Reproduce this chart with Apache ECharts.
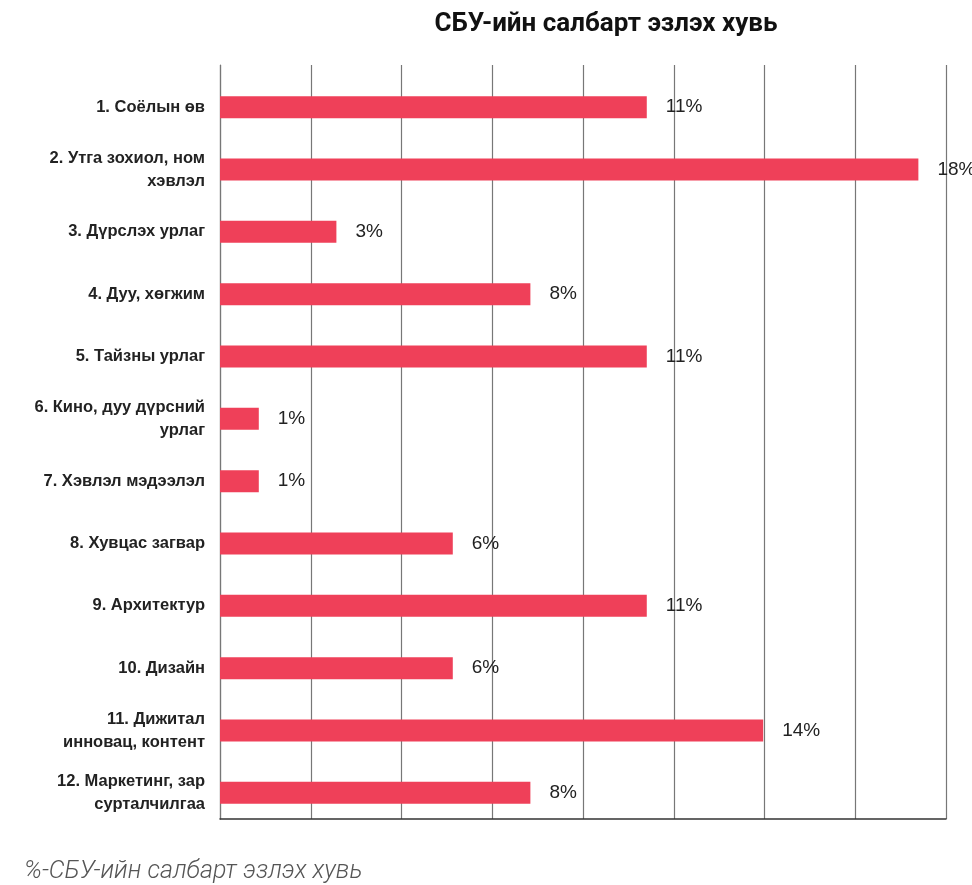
<!DOCTYPE html>
<html lang="en">

<head>
    <meta charset="UTF-8">
    <title>СБУ-ийн салбарт эзлэх хувь</title>
    <style>
        html, body { margin: 0; padding: 0; background: #fff; }
        #box { width: 972px; height: 885px; }
    </style>
    <script src="https://cdn.jsdelivr.net/npm/echarts@6/dist/echarts.min.js"></script>
</head>

<body>
    <div id="box"></div>
    <script>
        // салбарууд (дээрээс доош)
        const categories = [
            '1. Соёлын өв',
            '2. Утга зохиол, ном\nхэвлэл',
            '3. Дүрслэх урлаг',
            '4. Дуу, хөгжим',
            '5. Тайзны урлаг',
            '6. Кино, дуу дүрсний\nурлаг',
            '7. Хэвлэл мэдээлэл',
            '8. Хувцас загвар',
            '9. Архитектур',
            '10. Дизайн',
            '11. Дижитал\nинновац, контент',
            '12. Маркетинг, зар\nсурталчилгаа'
        ]
        // хувь (%)
        const values = [11, 18, 3, 8, 11, 1, 1, 6, 11, 6, 14, 8]

        // тэнхлэгийн хүрээ: 8 босоо шугам
        const axisMax = 18.712
        const axisStep = 2.339

        const arial = "'Liberation Sans', Arial, sans-serif"
        const roboto = "Roboto, 'Liberation Sans', sans-serif"

        const myChart = echarts.init(document.querySelector('#box'))

        const option = {
            animation: false,
            title: [{
                text: 'СБУ-ийн салбарт эзлэх хувь',
                left: 601,
                textAlign: 'center',
                top: 6,
                textStyle: { fontSize: 26, fontWeight: 'bold', color: '#111', fontFamily: roboto }
            }, {
                text: '%-СБУ-ийн салбарт эзлэх хувь',
                left: 19,
                top: 854,
                textStyle: { fontSize: 25, fontWeight: 300, fontStyle: 'italic', color: '#555', fontFamily: roboto }
            }],
            grid: [
                // хүрээ, шугамууд
                { left: 220, right: 26, top: 65, bottom: 66 },
                // баганууд
                { left: 220, right: 26, top: 76, bottom: 61 }
            ],
            xAxis: [{
                gridIndex: 0,
                type: 'value',
                min: 0,
                max: axisMax,
                interval: axisStep,
                axisLabel: { show: false },
                axisTick: { show: false },
                axisLine: { show: true, lineStyle: { color: '#333', width: 1.5 } },
                splitLine: { show: true, lineStyle: { color: '#777', width: 1.2 } }
            }, {
                gridIndex: 1,
                type: 'value',
                min: 0,
                max: axisMax,
                interval: axisStep,
                show: false
            }],
            yAxis: [{
                gridIndex: 0,
                type: 'category',
                data: categories,
                axisLabel: { show: false },
                axisTick: { show: false },
                axisLine: { show: true, lineStyle: { color: '#777', width: 1.2 } }
            }, {
                gridIndex: 1,
                type: 'category',
                inverse: true,
                data: categories,
                axisTick: { show: false },
                axisLine: { show: false },
                axisLabel: {
                    margin: 15,
                    fontSize: 16.5,
                    fontWeight: 'bold',
                    fontFamily: arial,
                    color: '#222',
                    lineHeight: 23,
                    align: 'right'
                }
            }],
            series: [{
                type: 'bar',
                xAxisIndex: 1,
                yAxisIndex: 1,
                data: values,
                barWidth: 22,
                itemStyle: { color: '#EF4059' },
                label: {
                    show: true,
                    position: 'right',
                    distance: 19,
                    formatter: '{c}%',
                    fontSize: 19,
                    fontFamily: arial,
                    color: '#222'
                }
            }]
        }

        myChart.setOption(option)
    </script>

</body>

</html>
